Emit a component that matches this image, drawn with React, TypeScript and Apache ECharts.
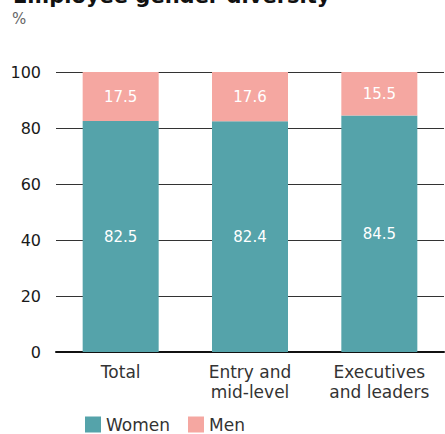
import React, { useEffect, useRef } from "react";
import * as echarts from "echarts";

const categories = ["Total", "Entry and\nmid-level", "Executives\nand leaders"];
const women = [82.5, 82.4, 84.5];
const men = [17.5, 17.6, 15.5];
const yTicks = [0, 20, 40, 60, 80, 100];

const FONT = "DejaVu Sans";

export default function App() {
  const ref = useRef<HTMLDivElement>(null);
  useEffect(() => {
    if (!ref.current) return;
    const chart = echarts.init(ref.current, null, { renderer: "svg" });
    chart.setOption({
      animation: false,
      textStyle: { fontFamily: FONT },
      graphic: [
        {
          type: "text",
          left: 13,
          top: -15,
          style: {
            text: "Employee gender diversity",
            fontFamily: FONT,
            fontWeight: "bold",
            fontSize: 21,
            fill: "#111",
          },
        },
        {
          type: "text",
          left: 12,
          top: 11,
          style: { text: "%", fontFamily: FONT, fontSize: 15, fill: "#666" },
        },
      ],
      grid: { left: 56, right: 1, top: 72, height: 280, containLabel: false },
      xAxis: {
        type: "category",
        data: categories,
        axisTick: { show: false },
        axisLine: { lineStyle: { color: "#111", width: 2 } },
        axisLabel: {
          color: "#333",
          fontSize: 17,
          fontFamily: FONT,
          margin: 10,
          lineHeight: 20,
          interval: 0,
        },
      },
      yAxis: {
        type: "value",
        min: yTicks[0],
        max: yTicks[yTicks.length - 1],
        interval: 20,
        axisLine: { show: false },
        axisTick: { show: false },
        axisLabel: { color: "#1a1a1a", fontSize: 16, fontFamily: FONT, margin: 15 },
        splitLine: { lineStyle: { color: "#333", width: 1 } },
      },
      legend: {
        data: ["Women", "Men"],
        left: 85,
        top: 416,
        padding: 0,
        itemWidth: 16,
        itemHeight: 16,
        itemGap: 18,
        icon: "rect",
        textStyle: { color: "#333", fontSize: 17, fontFamily: FONT },
      },
      series: [
        {
          name: "Women",
          type: "bar",
          stack: "total",
          data: women,
          barWidth: 76,
          itemStyle: { color: "#55a3aa" },
          label: {
            show: true,
            position: "inside",
            color: "#fff",
            fontSize: 15,
            fontFamily: FONT,
          },
        },
        {
          name: "Men",
          type: "bar",
          stack: "total",
          data: men,
          barWidth: 76,
          itemStyle: { color: "#f5a7a1" },
          label: {
            show: true,
            position: "inside",
            color: "#fff",
            fontSize: 15,
            fontFamily: FONT,
          },
        },
      ],
    });
    return () => chart.dispose();
  }, []);
  return <div ref={ref} style={{ width: 445, height: 434, position: "absolute", left: 0, top: 0 }} />;
}
